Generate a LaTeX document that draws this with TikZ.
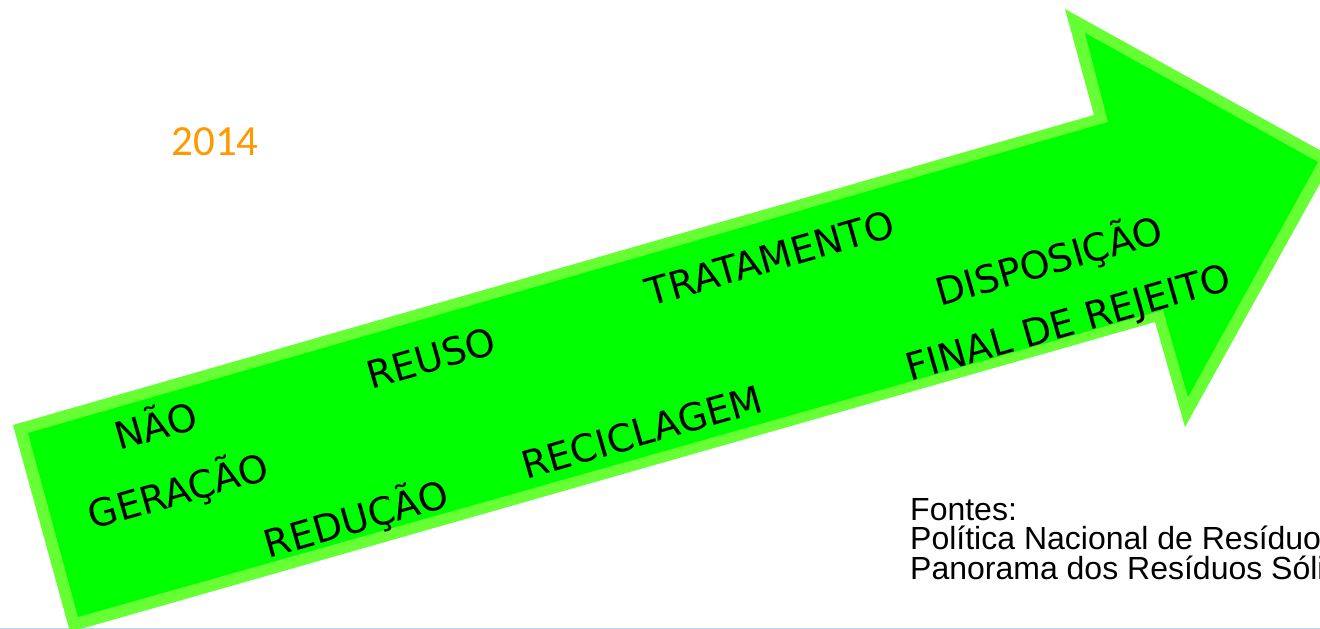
\documentclass[tikz,border=0pt]{standalone}
\usepackage{fontspec}
\setmainfont{DejaVu Sans}
\newfontfamily\labfont{DejaVu Sans}
\newfontfamily\numfont{Carlito}
\newfontfamily\srcfont{Liberation Sans}
\definecolor{maingreen}{HTML}{00FF00}
\definecolor{edgegreen}{HTML}{66FF33}
\definecolor{yearorange}{HTML}{FF9900}
\definecolor{baseblue}{HTML}{BDD7EE}
\begin{document}
\begin{tikzpicture}[x=1pt,y=-1pt,
  lbl/.style={rotate=16, inner sep=0pt, font=\labfont\fontsize{38}{38}\selectfont, text height=27.7pt, text depth=0pt, anchor=center},
  srcline/.style={inner sep=0pt, anchor=base west, font=\srcfont\fontsize{32}{32}\selectfont}]
\useasboundingbox (0,0) rectangle (1320,629);
\clip (0,0) rectangle (1320,629);
% bottom rule
\draw[baseblue, line width=1.5pt] (0,628.5) -- (1320,628.5);
% arrow: outer border and inner fill
\fill[edgegreen] (13,425) -- (1094,115) -- (1065,9) -- (1334,158) -- (1185,427) -- (1155,322) -- (70,632) -- cycle;
\fill[maingreen] (28,433) -- (1108,122) -- (1085,33) -- (1318,162) -- (1188,397) -- (1163,310) -- (78,617) -- cycle;
% labels
\node[lbl] (nao) at (156,426) {NÃO};
\node[lbl] (geracao) at (178,491) {GERAÇÃO};
\node[lbl] (reducao) at (356,519) {REDUÇÃO};
\node[lbl] (reuso) at (431,358) {REUSO};
\node[lbl] (reciclagem) at (642,432) {RECICLAGEM};
\node[lbl] (tratamento) at (770,258) {TRATAMENTO};
\node[lbl] (disposicao) at (1049,261) {DISPOSIÇÃO};
\node[lbl] (final) at (1068,322) {FINAL DE REJEITO};
% year
\node[inner sep=0pt, anchor=base, text=yearorange, font=\numfont\fontsize{43}{43}\selectfont] (year) at (215,155) {2014};
% sources
\node[srcline] (src1) at (910,520) {Fontes:};
\node[srcline] (src2) at (910,549.5) {Política Nacional de Resíduos};
\node[srcline] (src3) at (910,579) {Panorama dos Resíduos Sólidos};
\end{tikzpicture}
\end{document}
